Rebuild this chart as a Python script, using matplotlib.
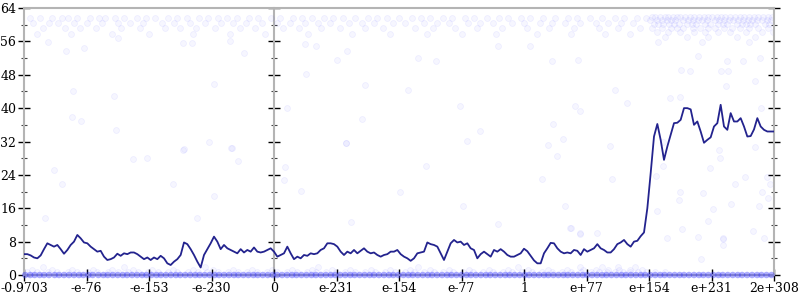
import matplotlib
matplotlib.use('Agg')
import matplotlib.pyplot as plt
import numpy as np
from matplotlib.ticker import MultipleLocator

# x axis: tick slots (left part negative, right part positive), labels as in source
tick_pos = [-4, -3, -2, -1, 0, 1, 2, 3, 4, 5, 6, 7, 8]
tick_labels = ['-0.9703', '-e-76', '-e-153', '-e-230', '0', 'e-231', 'e-154',
               'e-77', '1', 'e+77', 'e+154', 'e+231', '2e+308']

# moving average, evenly spaced samples from -0.9703 to 2e+308
avg_y = [
    5.0, 5.0, 4.7, 4.2, 4.0, 4.7, 6.2, 7.6, 7.2, 6.8, 7.2, 6.2, 5.1, 6.0, 7.2, 8.0,
    9.6, 8.8, 7.8, 7.6, 6.8, 6.2, 5.6, 5.8, 4.4, 3.6, 3.8, 4.2, 5.1, 4.6, 5.2, 5.0,
    5.4, 5.4, 5.0, 4.4, 3.8, 4.2, 3.6, 4.2, 3.8, 4.6, 4.0, 2.8, 2.4, 3.2, 3.8, 4.8,
    7.8, 7.4, 6.2, 4.8, 3.2, 1.8, 4.8, 6.2, 7.6, 9.2, 8.0, 6.2, 7.2, 6.4,
    6.0, 5.6, 5.2, 6.2, 5.4, 6.0, 5.6, 6.6, 5.6, 5.4,
    5.6, 6.0, 6.4, 5.6, 4.4, 4.8, 5.2, 6.8, 5.2, 3.8,
    4.4, 4.0, 4.8, 4.6, 5.2, 5.0, 5.2, 6.0, 6.4, 7.6,
    7.6, 7.4, 6.8, 5.6, 4.8, 5.6, 5.2, 6.0, 5.2, 5.8,
    6.4, 5.6, 5.2, 5.4, 4.8, 4.4, 4.8, 5.0, 5.6, 5.6,
    6.0, 5.0, 4.4, 4.0, 3.4, 4.0, 5.2, 5.4, 5.6, 7.8,
    7.4, 7.2, 6.8, 5.2, 3.6, 5.6, 7.6, 8.4, 7.8, 8.0,
    7.2, 7.6, 6.4, 6.0, 4.0, 5.0, 5.6, 5.0, 4.4, 6.0,
    5.6, 6.2, 5.6, 4.8, 4.4, 4.4, 4.8,
    5.2, 6.3, 5.7, 4.6, 3.5, 2.8, 2.8, 5.2, 6.4, 7.7,
    7.6, 6.4, 5.6, 5.2, 5.4, 5.2, 6.0, 5.8, 4.8, 6.2,
    5.6, 6.0, 6.4, 7.4, 6.4, 6.0, 5.4, 5.4, 6.2, 7.4,
    7.8, 8.4, 7.4, 6.8, 8.0, 8.2, 9.3, 10.2,
    16.0, 24.4, 33.2, 36.2, 32.4, 27.6, 30.8, 33.6, 36.4, 36.5,
    37.2, 40.0, 40.0, 39.7, 36.0, 36.8, 34.4, 31.7, 32.4, 33.0,
    35.6, 36.4, 40.8, 35.6, 34.8, 38.8, 36.8, 36.8, 37.6, 35.6,
    33.2, 33.3, 34.9, 37.6, 35.6, 34.8, 34.4, 34.4, 34.4,
]

# raw samples near the top of the range
top_rows = {
    61.6: [-3.9, -3.75, -3.55, -3.4, -3.3, -3.15, -2.95, -2.8, -2.7, -2.55, -2.4, -2.2,
           -2.05, -1.9, -1.7, -1.55, -1.4, -1.2, -1.05, -0.9, -0.75, -0.6, -0.4, -0.25,
           -0.05, 0.1, 0.3, 0.45, 0.6, 0.8, 0.95, 1.1, 1.3, 1.5, 1.65, 1.8, 2.0, 2.2,
           2.35, 2.5, 2.7, 2.85, 3.05, 3.2, 3.4, 3.6, 3.75, 3.95, 4.1, 4.3, 4.5, 4.7,
           4.85, 5.05, 5.25, 5.45, 5.6, 5.8, 5.95],
    60.4: [-3.85, -3.6, -3.45, -3.2, -3.0, -2.75, -2.5, -2.3, -2.1, -1.8, -1.6, -1.35,
           -1.1, -0.85, -0.65, -0.45, -0.2, 0.05, 0.25, 0.5, 0.7, 0.9, 1.2, 1.4, 1.6,
           1.9, 2.1, 2.4, 2.6, 2.8, 3.1, 3.3, 3.5, 3.8, 4.0, 4.25, 4.45, 4.65, 4.9,
           5.15, 5.35, 5.55, 5.75],
    59.2: [-3.7, -3.35, -3.1, -2.85, -2.45, -2.15, -1.75, -1.5, -1.25, -0.95, -0.55,
           -0.3, 0.15, 0.4, 0.75, 1.05, 1.45, 1.75, 2.25, 2.55, 2.9, 3.25, 3.65, 4.05,
           4.4, 4.8, 5.2, 5.5, 5.85],
    57.8: [-3.8, -3.25, -2.6, -2.0, -1.3, -0.7, -0.15, 0.55, 1.25, 1.85, 2.45, 3.0,
           3.55, 4.2, 4.75, 5.3, 5.7],
    61.9: [6.05, 6.1, 6.18, 6.25, 6.3, 6.38, 6.45, 6.5, 6.58, 6.65, 6.72, 6.8, 6.88,
           6.95, 7.0, 7.08, 7.15, 7.22, 7.3, 7.38, 7.45, 7.52, 7.6, 7.68, 7.75, 7.82,
           7.9, 7.97],
    61.1: [6.02, 6.12, 6.2, 6.28, 6.35, 6.42, 6.55, 6.62, 6.7, 6.78, 6.85, 6.92, 7.05,
           7.12, 7.2, 7.28, 7.35, 7.42, 7.5, 7.58, 7.65, 7.72, 7.8, 7.88, 7.95],
    60.2: [6.08, 6.15, 6.22, 6.32, 6.4, 6.48, 6.6, 6.68, 6.75, 6.9, 6.98, 7.1, 7.18,
           7.25, 7.4, 7.48, 7.55, 7.62, 7.7, 7.85, 7.92],
    59.3: [6.05, 6.2, 6.35, 6.45, 6.55, 6.7, 6.82, 6.95, 7.05, 7.2, 7.32, 7.45, 7.6,
           7.75, 7.9],
    58.3: [6.12, 6.3, 6.5, 6.72, 6.9, 7.1, 7.3, 7.55, 7.8, 7.98],
    57.0: [6.25, 6.6, 6.95, 7.4, 7.7],
    55.8: [6.15, 6.85, 7.6],
}

# sparse samples in the middle of the range
mid_x = [-3.52, -3.39, -3.67, -2.26, -2.04, -1.46, -1.62, -1.04, -0.68, -0.58, -0.96,
         -1.23, 0.18, 0.16, 0.43, 1.15, 1.23, 2.02, -2.53, -3.22, -3.24, -3.09, -2.56,
         -3.33, -3.04, -3.62, -0.48, -0.96, -1.44, -0.69, -1.46, -1.32, -0.71, -2.50,
         0.51, 1.01, 1.16, 0.50, 0.67, 1.46, 2.14, 2.31, 2.59, 0.21, 1.41, 2.97, 3.29,
         3.08, 1.15, 3.58, 4.09, 4.44, 4.87, 5.45, 4.82, 4.89, 4.47, 5.65, 4.63, 4.38,
         5.38, 6.33, 6.50, 6.51, 6.65, 7.15, 7.27, 7.23, 7.69, 7.79, 6.79, 7.24, 7.50,
         7.78, 6.22, 2.43, 4.52, 4.29, 5.40, 3.02, 4.65, 3.58, 4.74, 4.90, 5.17, 6.22,
         6.11, 6.49, 6.48, 6.13, 6.86, 6.98, 7.13, 7.12, 7.37, 7.54, 7.70, 7.88, 7.94,
         7.81, 7.90, 7.31, 7.76, 7.02, 6.95, 7.66, 7.84, 7.18, 6.79, 6.53, 6.29, 7.19,
         7.19, 6.83, 4.75, 4.89]
mid_y = [25.2, 21.7, 13.6, 27.8, 28.1, 30.0, 21.7, 32.0, 30.4, 27.4, 18.9,
         13.7, 25.8, 22.7, 20.2, 31.7, 12.6, 20.0, 34.8, 44.0, 37.8, 37.0, 42.9,
         53.8, 54.5, 55.8, 53.3, 45.8, 30.1, 30.5, 55.6, 55.6, 56.0, 56.7,
         48.2, 51.6, 53.7, 55.3, 54.9, 45.6, 44.4, 52.0, 51.2, 40.1, 37.3, 40.4, 34.4,
         32.1, 31.7, 55.0, 54.8, 51.4, 51.6, 44.4, 40.5, 39.2, 36.2, 41.2, 32.5, 31.2,
         31.0, 42.4, 42.6, 49.2, 48.9, 48.8, 48.8, 45.3, 46.4, 40.0, 52.5, 51.2, 51.2,
         52.0, 32.0, 26.1, 28.6, 22.9, 22.9, 16.5, 16.5, 12.2, 11.2, 9.8, 10.0, 26.1,
         23.7, 19.9, 17.9, 15.4, 19.6, 25.7, 28.0, 30.0, 21.7, 23.6, 30.6, 23.6, 21.8,
         19.8, 18.4, 17.0, 16.5, 15.9, 12.9, 10.6, 8.8, 8.8, 9.0, 11.0, 8.8, 8.6,
         7.2, 3.8, 11.3, 10.0]

# raw samples near zero
zero_x = [-3.98, -3.9, -3.83, -3.75, -3.68, -3.6, -3.51, -3.44, -3.36, -3.28, -3.2,
          -3.12, -3.05, -2.97, -2.9, -2.81, -2.73, -2.66, -2.58, -2.5, -2.42, -2.35,
          -2.27, -2.19, -2.11, -2.04, -1.96, -1.88, -1.81, -1.73, -1.65, -1.57, -1.5,
          -1.42, -1.34, -1.26, -1.19, -1.11, -1.03, -0.95, -0.88, -0.8, -0.72, -0.64,
          -0.57, -0.49, -0.41, -0.33, -0.26, -0.18, -0.1, -0.02, 0.05, 0.13, 0.21,
          0.29, 0.36, 0.44, 0.52, 0.6, 0.67, 0.75, 0.83, 0.91, 0.98, 1.06, 1.14, 1.22,
          1.29, 1.37, 1.45, 1.53, 1.6, 1.68, 1.76, 1.84, 1.91, 1.99, 2.07, 2.15, 2.22,
          2.3, 2.38, 2.46, 2.53, 2.61, 2.69, 2.77, 2.84, 2.92, 3.0, 3.08, 3.15, 3.23,
          3.31, 3.39, 3.46, 3.54, 3.62, 3.7, 3.77, 3.85, 3.93, 4.01, 4.08, 4.16, 4.24,
          4.32, 4.39, 4.47, 4.55, 4.63, 4.7, 4.78, 4.86, 4.94, 5.01, 5.09, 5.17, 5.25,
          5.32, 5.4, 5.48, 5.56, 5.63, 5.71, 5.79, 5.87, 5.94, 6.02, 6.1, 6.18, 6.25,
          6.33, 6.41, 6.49, 6.56, 6.64, 6.72, 6.8, 6.87, 6.95, 7.03, 7.11, 7.18, 7.26,
          7.34, 7.42, 7.49, 7.57, 7.65, 7.73, 7.8, 7.88, 7.96]
low_rows = {
    0.7: [-3.95, -3.8, -3.62, -3.47, -3.3, -3.16, -2.98, -2.83, -2.66, -2.5, -2.34,
          -2.18, -2.02, -1.86, -1.7, -1.55, -1.38, -1.22, -1.07, -0.9, -0.74, -0.58,
          -0.43, -0.27, -0.11, 0.04, 0.2, 0.36, 0.52, 0.67, 0.83, 0.99, 1.14, 1.3,
          1.46, 1.62, 1.77, 1.93, 2.09, 2.24, 2.4, 2.56, 2.71, 2.87, 3.03, 3.19, 3.34,
          3.5, 3.66, 3.81, 3.97, 4.13, 4.28, 4.44, 4.6, 4.75, 4.91, 5.07, 5.2, 5.32,
          5.45, 5.58, 5.7, 5.82, 5.95, 6.1, 6.25],
    1.3: [-3.88, -3.55, -3.24, -2.9, -2.6, -2.26, -1.95, -1.62, -1.3, -0.98, -0.66,
          -0.35, -0.03, 0.28, 0.6, 0.92, 1.22, 1.55, 1.86, 2.18, 2.5, 2.8, 3.12, 3.44,
          3.75, 4.06, 4.38, 4.68, 4.95, 5.15, 5.35, 5.52, 5.7, 5.88],
    2.0: [-3.7, -2.4, -1.1, 0.7, 2.3, 3.9, 4.9, 5.25, 5.5, 5.78],
}

fig = plt.figure(figsize=(8, 3), dpi=100)
ax = fig.add_axes([0.03, 0.0833, 0.9375, 0.89])

face = (0.35, 0.35, 1.0, 0.05)
edge = (0.35, 0.35, 1.0, 0.08)
for yv, xs in top_rows.items():
    ax.scatter(xs, [yv] * len(xs), s=18, facecolors=face, edgecolors=edge,
               linewidths=0.6, zorder=2)
for yv, xs in low_rows.items():
    ax.scatter(xs, [yv] * len(xs), s=18, facecolors=face, edgecolors=edge,
               linewidths=0.6, zorder=2)
ax.scatter(mid_x, mid_y, s=18, facecolors=face, edgecolors=edge, linewidths=0.6,
           zorder=2)
ax.scatter(zero_x, [0] * len(zero_x), s=22, facecolors=(0.2, 0.2, 1.0, 0.4),
           edgecolors='none', zorder=3, clip_on=False)

avg_x = np.linspace(tick_pos[0], tick_pos[-1], len(avg_y))
ax.plot(avg_x, avg_y, color='#23238e', linewidth=1.3, zorder=4)

ax.set_xlim(-4, 8)
ax.set_ylim(0, 64)

for s in ax.spines.values():
    s.set_color('#b4b4b4')
    s.set_linewidth(1.5)

ax.set_xticks(tick_pos)
ax.set_xticklabels(tick_labels)
ax.yaxis.set_major_locator(MultipleLocator(8))
ax.yaxis.set_minor_locator(MultipleLocator(4))
ax.tick_params(axis='x', direction='inout', length=8, width=1, color='black',
               labelsize=9, pad=1)
ax.tick_params(axis='y', which='major', direction='inout', length=9, width=1,
               color='black', labelsize=9, pad=1, right=True)
ax.tick_params(axis='y', which='minor', direction='inout', length=5, width=0.8,
               color='#444444', right=True)
for lbl in ax.get_xticklabels() + ax.get_yticklabels():
    lbl.set_family('DejaVu Serif')

# the vertical axis through zero
mid = ax.secondary_yaxis(4 / 12)
mid.spines['right'].set_color('#b4b4b4')
mid.spines['right'].set_linewidth(1.5)
mid.spines['left'].set_color('#b4b4b4')
mid.spines['left'].set_linewidth(1.5)
mid.yaxis.set_major_locator(MultipleLocator(8))
mid.yaxis.set_minor_locator(MultipleLocator(4))
mid.tick_params(which='major', direction='inout', length=9, width=1, color='black',
                labelleft=False, labelright=False)
mid.tick_params(which='minor', direction='inout', length=5, width=0.8,
                color='#444444')

fig.savefig('out.png', dpi=100)
